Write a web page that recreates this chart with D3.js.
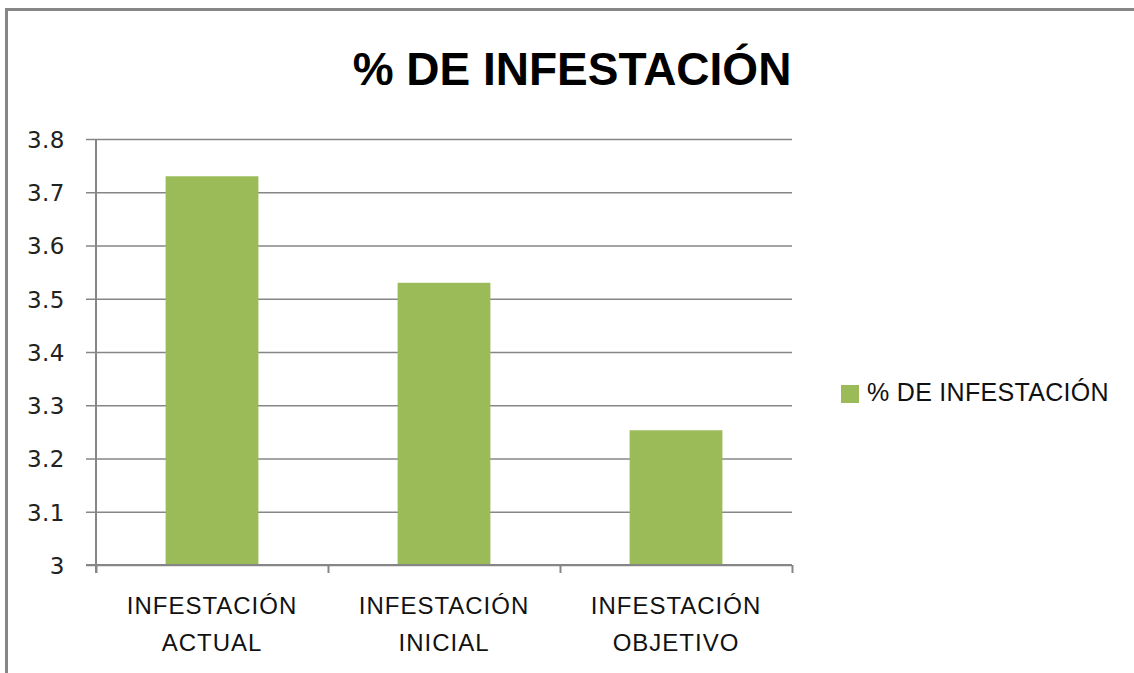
<!DOCTYPE html>
<html>
<head>
<meta charset="utf-8">
<script src="https://cdn.jsdelivr.net/npm/d3@7"></script>
<style>
  html, body { margin: 0; padding: 0; background: #fff; }
  svg { display: block; }
</style>
</head>
<body>
<svg id="chart" width="1134" height="673"></svg>
<script>
const title = "% DE INFESTACIÓN";
const seriesName = "% DE INFESTACIÓN";
const categories = [["INFESTACIÓN", "ACTUAL"], ["INFESTACIÓN", "INICIAL"], ["INFESTACIÓN", "OBJETIVO"]];
const values = [3.73, 3.53, 3.253];
const yTicks = [3, 3.1, 3.2, 3.3, 3.4, 3.5, 3.6, 3.7, 3.8];
const yDomain = [3, 3.8];

const svg = d3.select("#chart");
const grey = "#868686";
const green = "#9BBB59";

// outer chart border (extends past the right/bottom edges)
svg.append("path")
  .attr("d", "M6.5,700 V9.5 H1140")
  .attr("fill", "none").attr("stroke", grey).attr("stroke-width", 3);

const plot = { left: 96, right: 792, top: 139, bottom: 565 };
const x = d3.scaleBand().domain(d3.range(categories.length))
  .range([plot.left, plot.right]).paddingInner(0.6).paddingOuter(0.3);
const xTickScale = d3.scaleLinear().domain([0, categories.length]).range([plot.left, plot.right]);
const y = d3.scaleLinear().domain(yDomain).range([plot.bottom, plot.top]);

// gridlines + y ticks
const yAxis = d3.axisLeft(y).tickValues(yTicks).tickSize(plot.right - plot.left + 10)
  .tickFormat(d => d3.format("")(+d.toFixed(1)));
const gy = svg.append("g").attr("transform", `translate(${plot.right},0)`).call(yAxis);
gy.select(".domain").remove();
gy.selectAll(".tick line").attr("stroke", grey).attr("stroke-width", 1.5);
gy.selectAll(".tick text")
  .attr("x", -(plot.right - plot.left) - 31)
  .attr("dy", "0.36em")
  .attr("fill", "#222")
  .style("font-family", "'DejaVu Sans', sans-serif")
  .style("font-size", "23px")
  .style("letter-spacing", "0.5px");

// bars
svg.append("g").selectAll("rect").data(values).join("rect")
  .attr("x", (d, i) => x(i))
  .attr("width", x.bandwidth())
  .attr("y", d => y(d))
  .attr("height", d => y(yDomain[0]) - y(d))
  .attr("fill", green);

// y axis line
svg.append("line")
  .attr("x1", plot.left).attr("x2", plot.left)
  .attr("y1", plot.top).attr("y2", plot.bottom + 8)
  .attr("stroke", grey).attr("stroke-width", 2);

// x axis
const xAxis = d3.axisBottom(xTickScale).tickValues(d3.range(categories.length + 1))
  .tickSize(8).tickFormat("");
const gx = svg.append("g").attr("transform", `translate(0,${plot.bottom})`).call(xAxis);
gx.select(".domain").remove();
gx.selectAll(".tick line").attr("stroke", grey).attr("stroke-width", 2);
svg.append("line")
  .attr("x1", plot.left - 10).attr("x2", plot.right)
  .attr("y1", plot.bottom).attr("y2", plot.bottom)
  .attr("stroke", grey).attr("stroke-width", 2);

// category labels
const labels = svg.append("g").selectAll("text").data(categories).join("text")
  .attr("text-anchor", "middle")
  .attr("fill", "#111")
  .style("font-family", "'Liberation Sans', sans-serif")
  .style("font-size", "24px")
  .style("letter-spacing", "1px");
labels.each(function(lines, i) {
  const t = d3.select(this);
  lines.forEach((ln, j) => {
    t.append("tspan")
      .attr("x", x(i) + x.bandwidth() / 2)
      .attr("y", 614 + j * 37)
      .text(ln);
  });
});

// title
svg.append("text")
  .attr("x", 572).attr("y", 85)
  .attr("text-anchor", "middle")
  .attr("fill", "#000")
  .style("font-family", "'Liberation Sans', sans-serif")
  .style("font-weight", "bold")
  .style("font-size", "46px")
  .text(title);

// legend
const lg = svg.append("g").attr("transform", "translate(841,385)");
lg.append("rect").attr("width", 18).attr("height", 18).attr("fill", green);
lg.append("text")
  .attr("x", 26).attr("y", 16)
  .attr("fill", "#111")
  .style("font-family", "'Liberation Sans', sans-serif")
  .style("font-size", "25px")
  .style("letter-spacing", "0.3px")
  .text(seriesName);
</script>
</body>
</html>
